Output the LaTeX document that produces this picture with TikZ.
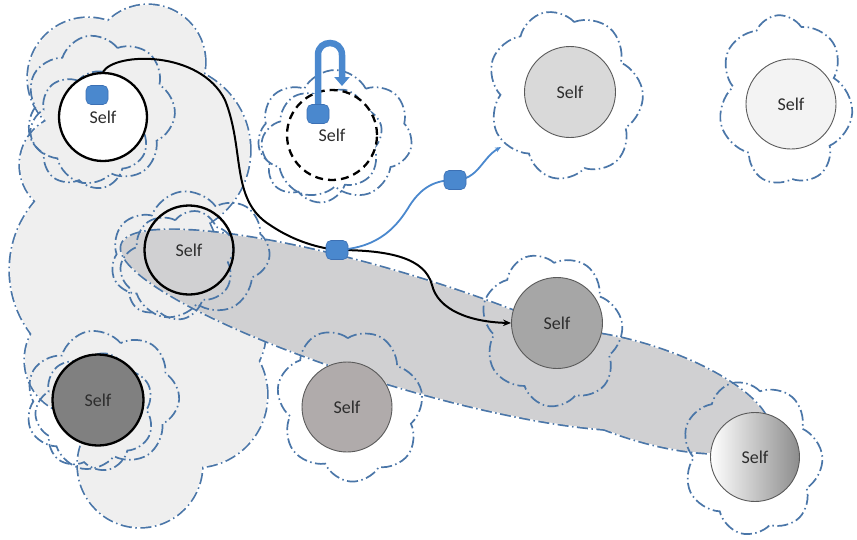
\documentclass[tikz,border=0pt]{standalone}
\usepackage{fontspec}
\setmainfont{Carlito}
\usetikzlibrary{shapes.symbols,shapes.geometric,arrows.meta}
\definecolor{cloudblue}{RGB}{74,118,168}
\definecolor{boxblue}{RGB}{74,136,206}
\definecolor{boxedge}{RGB}{60,112,180}
\definecolor{lightreg}{RGB}{239,239,239}
\definecolor{darkreg}{RGB}{208,208,210}
\definecolor{txt}{RGB}{45,45,45}
\definecolor{thinedge}{RGB}{90,90,90}
\begin{document}
\begin{tikzpicture}[x=1pt,y=-1pt,
  ddash/.style={dash pattern=on 11pt off 3.5pt on 1.5pt off 3.5pt},
  puff/.style={cloud, cloud puffs=7, cloud puff arc=125, cloud ignores aspect,
    draw=cloudblue, line width=1.7pt, ddash, inner sep=0pt},
  selfnode/.style={circle, minimum size=88pt, inner sep=0pt,
    font=\fontsize{18}{20}\selectfont, text=txt},
  thick edge/.style={draw=black, line width=2.3pt},
  thin edge/.style={draw=thinedge, line width=0.9pt},
  bluebox/.style={draw=boxedge, fill=boxblue, line width=0.6pt, rounded corners=5pt,
    minimum width=22pt, minimum height=19pt, inner sep=0pt},
  blk/.style={draw=black, line width=2pt},
  bluel/.style={draw=boxblue, line width=1.8pt},
]
\useasboundingbox (0,0) rectangle (857,539);
\fill[white] (0,0) rectangle (857,539);

% big light region (union of circles)
\foreach \cx/\cy/\r in {88/78/60, 148/62/57, 165/150/85, 70/165/50, 115/270/105,
  210/335/55, 195/395/72, 140/465/62, 80/360/55}
  \draw[cloudblue, line width=3.4pt, ddash] (\cx,\cy) circle[radius=\r pt];
\foreach \cx/\cy/\r in {88/78/60, 148/62/57, 165/150/85, 70/165/50, 115/270/105,
  210/335/55, 195/395/72, 140/465/62, 80/360/55}
  \fill[lightreg] (\cx,\cy) circle[radius=\r pt];

% darker elongated region
\draw[cloudblue, line width=3.4pt, ddash, rotate around={-17:(400,330)}]
  (400,330) ellipse[x radius=291pt, y radius=55pt];
\draw[cloudblue, line width=3.4pt, ddash, rotate around={-18:(640,392)}]
  (640,392) ellipse[x radius=135pt, y radius=47pt];
\fill[darkreg, rotate around={-17:(400,330)}]
  (400,330) ellipse[x radius=291pt, y radius=55pt];
\fill[darkreg, rotate around={-18:(640,392)}]
  (640,392) ellipse[x radius=135pt, y radius=47pt];

% clouds
\node[puff, minimum width=150pt, minimum height=150pt, rotate=10] (k1a) at (100,110) {};
\node[puff, minimum width=120pt, minimum height=118pt, rotate=40] (k1b) at (90,130) {};
\node[puff, minimum width=155pt, minimum height=130pt] (k2a) at (335,135) {};
\node[puff, minimum width=125pt, minimum height=112pt, rotate=30] (k2b) at (322,145) {};
\node[puff, minimum width=155pt, minimum height=170pt, rotate=15] (k3a) at (565,95) {};
\node[puff, minimum width=135pt, minimum height=170pt, rotate=5] (k4a) at (785,100) {};
\node[puff, minimum width=160pt, minimum height=128pt, rotate=8] (k5a) at (190,255) {};
\node[puff, minimum width=120pt, minimum height=105pt, rotate=35] (k5b) at (178,265) {};
\node[puff, minimum width=140pt, minimum height=155pt, rotate=20] (k6a) at (552,330) {};
\node[puff, minimum width=155pt, minimum height=140pt, rotate=12] (k7a) at (102,400) {};
\node[puff, minimum width=120pt, minimum height=118pt, rotate=40] (k7b) at (95,412) {};
\node[puff, minimum width=145pt, minimum height=155pt, rotate=25] (k8a) at (350,405) {};
\node[puff, minimum width=140pt, minimum height=155pt, rotate=15] (k9a) at (752,458) {};

% Self nodes
\node[selfnode, thick edge, fill=white] (c1) at (103,117) {Self};
\node[selfnode, draw=black, line width=2.3pt, dash pattern=on 8pt off 5pt, fill=white, minimum size=90pt] (c2) at (332,135) {Self};
\node[selfnode, thin edge, fill={rgb,255:red,217;green,217;blue,217}, minimum size=91pt] (c3) at (570,92) {Self};
\node[selfnode, thin edge, fill={rgb,255:red,243;green,243;blue,243}, minimum size=90pt] (c4) at (791,104) {Self};
\node[selfnode, thick edge, minimum size=89pt] (c5) at (189,250) {Self};
\node[selfnode, thin edge, fill={rgb,255:red,166;green,166;blue,166}, minimum size=91pt] (c6) at (557,323) {Self};
\node[selfnode, thick edge, fill={rgb,255:red,128;green,128;blue,128}, minimum size=91pt] (c7) at (98,400) {Self};
\node[selfnode, thin edge, fill={rgb,255:red,176;green,171;blue,171}, minimum size=90pt] (c8) at (347,407) {Self};
\node[selfnode, thin edge, left color=white, right color=black!45, minimum size=89pt] (c9) at (755,457) {Self};

% coordinates
\coordinate (e4) at (501,147);
\coordinate (u1) at (342,86);

% blue boxes positions
\node[bluebox] (sq1) at (97,95) {};
\node[bluebox] (sq2) at (318,114) {};
\coordinate (p3) at (337,250);
\coordinate (p4) at (455,180);

% connectors
\draw[blk] (c1.north) .. controls (115,52) and (200,50) .. (225,100)
  .. controls (245,150) and (230,200) .. (270,225)
  .. controls (295,242) and (320,248) .. (p3);
\draw[blk, -{Stealth[length=8pt,width=6.5pt]}] (p3) .. controls (390,250) and (425,258) .. (432,285)
  .. controls (438,310) and (470,322) .. (c6.west);
\draw[bluel] (p3) .. controls (380,248) and (398,225) .. (410,205)
  .. controls (422,187) and (435,180) .. (p4);
\draw[bluel, -{Stealth[length=6pt,width=5pt]}] (p4) .. controls (478,180) and (482,158) .. (e4);
\node[bluebox] (sq3) at (p3) {};
\node[bluebox] (sq4) at (p4) {};

% U-turn arrow
\draw[boxblue, line width=6.5pt, -{Triangle[width=15pt,length=9pt]}]
  (sq2.north) -- (318,55) .. controls (318,39) and (342,39) .. (342,55) -- (u1);
\end{tikzpicture}
\end{document}
